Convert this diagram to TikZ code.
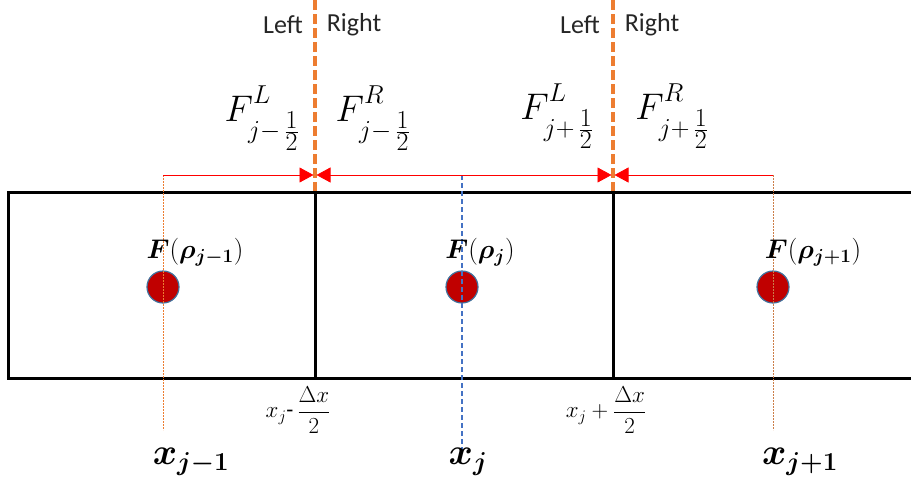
\RequirePackage{fix-cm}
\documentclass[tikz,border=0pt]{standalone}
\usepackage{amsmath}
\usepackage{bm}
\usepackage{fontspec}
\setmainfont{Carlito}
\usetikzlibrary{positioning,arrows.meta}
\definecolor{inkblack}{HTML}{000000}
\definecolor{faceorange}{HTML}{ED7D31}
\definecolor{fluxred}{HTML}{FF0000}
\definecolor{dotred}{HTML}{C00000}
\definecolor{dotrim}{HTML}{41719C}
\definecolor{centreblue}{HTML}{4472C4}
\definecolor{labelgray}{HTML}{262626}
\newcommand{\halfflux}[2]{$F^{\raisebox{5pt}{$\scriptstyle #1$}}_{j#2\,\frac{\scriptstyle 1}{\scriptstyle 2}}$}

\begin{document}
\begin{tikzpicture}[x=1pt,y=-1pt,
  cellline/.style={inkblack, line width=3pt},
  facemark/.style={faceorange, line width=4pt, dash pattern=on 10pt off 4pt},
  flux/.style={fluxred, line width=0.8pt, -{Triangle[length=14pt,width=15pt]}},
  cellpoint/.style={circle, fill=dotred, draw=dotrim, line width=1.2pt, minimum size=32pt, inner sep=0pt},
  sidelabel/.style={font=\fontsize{26}{30}\selectfont, text=labelgray, inner sep=0pt},
  fluxlabel/.style={font=\fontsize{37}{42}\selectfont, inner sep=0pt},
  pointlabel/.style={font=\fontsize{27}{31}\selectfont, inner sep=0pt},
  coordlabel/.style={font=\fontsize{37}{42}\selectfont, inner sep=0pt},
  edgelabel/.style={font=\fontsize{23}{27}\selectfont, inner sep=0pt}]
  \useasboundingbox (0,0) rectangle (911,491);
  % cells
  \draw[cellline] (911,192) -- (8,192) -- (8,378) -- (911,378);
  \draw[cellline] (315,192) -- (315,378);
  \draw[cellline] (613,192) -- (613,378);
  % cell faces
  \draw[facemark] (315,0) -- (315,191);
  \draw[facemark] (613,0) -- (613,191);
  \coordinate (fl) at (315,175);
  \coordinate (fr) at (613,175);
  \node[sidelabel] (ll) at (283,25) {Left};
  \node[sidelabel] (lr) at (354,25) {Right};
  \node[sidelabel] (rl) at (580,25) {Left};
  \node[sidelabel] (rr) at (652,25) {Right};
  \node[fluxlabel] (fll) at (262,118) {\halfflux{L}{-}};
  \node[fluxlabel] (flr) at (373,118) {\halfflux{R}{-}};
  \node[fluxlabel] (frl) at (557,116) {\halfflux{L}{+}};
  \node[fluxlabel] (frr) at (672,116) {\halfflux{R}{+}};
  % cell centres
  \coordinate (tm) at (163,175);
  \coordinate (tj) at (462,175);
  \coordinate (tp) at (773,175);
  \coordinate (bm) at (163,430);
  \coordinate (bj) at (462,452);
  \coordinate (bp) at (773,430);
  \node[cellpoint] (cm) at (163,287) {};
  \node[cellpoint] (cj) at (462,287) {};
  \node[cellpoint] (cp) at (773,287) {};
  \draw[faceorange, line width=0.6pt, dash pattern=on 2pt off 1pt] (tm) -- (bm);
  \draw[centreblue, line width=1.4pt, dash pattern=on 5pt off 3pt] (tj) -- (bj);
  \draw[faceorange!70!gray, line width=0.6pt, dash pattern=on 2pt off 1pt] (tp) -- (bp);
  % fluxes
  \draw[flux] (tm) -- ([xshift=-1.5pt]fl);
  \draw[flux] (tj) -- ([xshift=1.5pt]fl);
  \draw[flux] (tj) -- ([xshift=-1.5pt]fr);
  \draw[flux] (tp) -- ([xshift=1.5pt]fr);
  % labels
  \node[pointlabel] (pm) at (195,252) {$\bm{F}(\bm{\rho}_{\bm{j-1}})$};
  \node[pointlabel] (pj) at (480,252) {$\bm{F}(\bm{\rho}_{\bm{j}})$};
  \node[pointlabel] (pp) at (813,252) {$\bm{F}(\bm{\rho}_{\bm{j+1}})$};
  \node[coordlabel] (xm) at (191,462) {$\bm{x}_{\bm{j-1}}$};
  \node[coordlabel] (xj) at (468,462) {$\bm{x}_{\bm{j}}$};
  \node[coordlabel] (xp) at (800,462) {$\bm{x}_{\bm{j+1}}$};
  \node[edgelabel] (el) at (298,410) {$x_j$-\,$\dfrac{\Delta x}{2}$};
  \node[edgelabel] (er) at (606,410) {$x_j+\dfrac{\Delta x}{2}$};
\end{tikzpicture}
\end{document}
